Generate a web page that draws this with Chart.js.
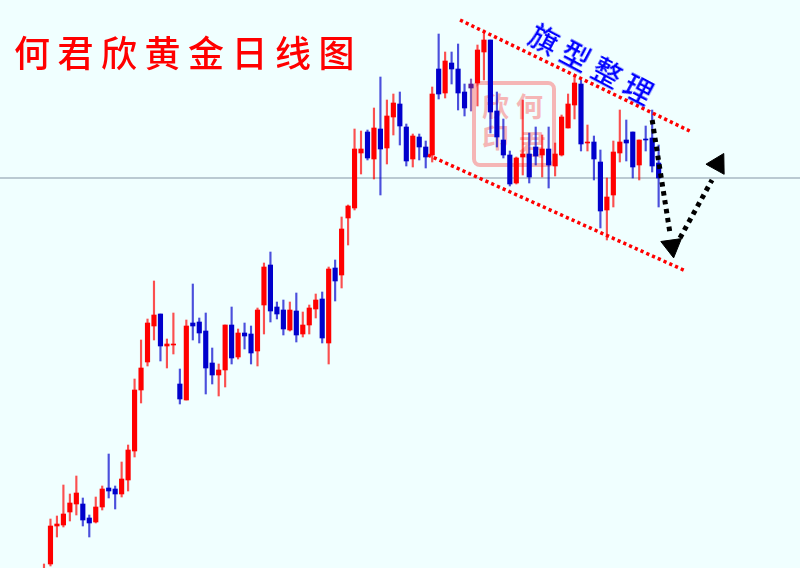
<!DOCTYPE html>
<html>
<head>
<meta charset="utf-8">
<script src="https://cdn.jsdelivr.net/npm/chart.js@4"></script>
<style>
  html, body { margin: 0; padding: 0; background: #f0ffff; overflow: hidden; }
  #wrap { position: relative; width: 800px; height: 568px; overflow: hidden; font-family: "Noto Sans CJK SC", sans-serif; }
  #goldChart { position: absolute; left: 0; top: 0; z-index: 1; }
  .title { position: absolute; left: 14px; top: 26px; z-index: 2; font-size: 36px; font-weight: 500; line-height: 50px; letter-spacing: 7.5px; color: #ff0000; white-space: nowrap; }
  .flag { position: absolute; left: 524px; top: 44px; width: 140px; z-index: 2; font-size: 29px; font-weight: 500; line-height: 40px; letter-spacing: 6.5px; color: #0000ff; white-space: nowrap; transform: rotate(28deg); }
  .seal { position: absolute; left: 472px; top: 81px; width: 76px; height: 78px; border: 4px solid #f5b6b6; border-radius: 8px; z-index: 0; color: #f5b6b6; }
  .seal span { position: absolute; font-size: 27px; line-height: 30px; font-weight: bold; }
</style>
</head>
<body>
<div id="wrap">
  <div class="seal">
    <span style="left:40px;top:6px">何</span>
    <span style="left:43px;top:44px">君</span>
    <span style="left:6px;top:6px">欣</span>
    <span style="left:6px;top:37px">印</span>
  </div>
  <canvas id="goldChart" width="800" height="568"></canvas>
  <div class="title">何君欣黄金日线图</div>
  <div class="flag">旗型整理</div>
</div>
<script>
// Daily candles (no price scale is shown, so units are arbitrary)
const open  = [-20,4,42,43,56,64,64,50,46,61,80,79,74,88,117,178,206,242,254,222,223,184,168,245,246,237,205,193,198,243,211,235,234,217,263,303,261,258,238,257,234,243,259,269,225,300,293,350,360,415,436,409,439,420,451,464,441,409,431,421,413,499,475,505,499,476,484,485,516,528,457,428,413,385,411,414,421,413,419,402,413,440,463,484,425,426,406,358,373,415,428,436,403,429,430,405];
const high  = [4,49,52,83,74,92,70,53,71,82,114,82,106,123,189,228,249,287,254,229,255,199,248,284,250,255,220,204,243,261,239,245,242,260,305,316,266,268,266,275,256,263,274,276,301,308,351,363,439,437,438,460,491,468,474,476,444,434,434,427,481,534,516,516,524,484,489,523,538,528,476,449,417,411,468,435,441,433,441,425,453,474,491,488,443,432,418,390,427,458,448,436,428,442,458,423];
const low   = [-20,2,31,41,47,53,42,31,45,58,70,59,71,77,111,165,202,228,207,200,214,164,168,228,225,174,184,172,181,204,209,219,204,202,234,246,249,233,237,226,231,234,250,225,204,267,280,323,358,394,408,389,373,404,433,423,402,401,408,400,406,469,470,484,458,452,457,462,488,435,421,410,382,384,393,385,403,391,380,392,412,440,449,417,417,388,340,328,361,406,407,390,388,417,396,361];
const close = [-4,42,44,54,65,75,48,45,61,79,77,74,89,118,178,200,245,253,222,224,224,169,242,242,235,200,193,198,243,210,235,232,215,258,301,257,254,239,258,233,243,260,268,230,299,287,339,362,419,419,410,440,419,452,465,442,407,432,421,411,474,474,507,499,475,460,480,518,528,456,431,413,384,410,414,391,412,419,403,414,451,464,485,424,426,409,357,371,416,426,425,401,428,428,402,390];

// Drawn annotations, x in candle index, y in the same units as the candles
const upperChannel = [{ x: 64.3, y: 548 }, { x: 99.8, y: 437 }];
const lowerChannel = [{ x: 59.35, y: 413 }, { x: 99.2, y: 297 }];
const arrowDown = [{ x: 94, y: 448 }, { x: 96.75, y: 335 }];
const arrowUp = [{ x: 98.3, y: 330 }, { x: 103.25, y: 388 }];
const arrowHeads = [{ x: 97.06, y: 322 }, { x: 104.17, y: 404 }];
const priceLine = [{ x: -7, y: 390 }, { x: 117, y: 390 }];

const RED = '#ff0000';
const BLUE = '#0000cc';
const SEAL_TINTED = 66; // this candle sits on the seal and looks purple

function candleColor(i) {
    if (i === SEAL_TINTED) return '#5a1a96';
    return close[i] >= open[i] ? RED : BLUE;
}

const colors = open.map((v, i) => candleColor(i));

new Chart(document.getElementById('goldChart'), {
    type: 'bar',
    data: {
        datasets: [
            {
                label: 'wick',
                data: open.map((v, i) => ({ x: i, y: [low[i], high[i]] })),
                backgroundColor: colors.map(c => c + 'b0'),
                barThickness: 1.5,
                grouped: false,
                order: 5
            },
            {
                label: 'body',
                data: open.map((v, i) => ({ x: i, y: [open[i], close[i]] })),
                backgroundColor: colors,
                barThickness: 4.5,
                grouped: false,
                order: 4
            },
            {
                type: 'line',
                label: 'price',
                data: priceLine,
                borderColor: '#8496a6',
                borderWidth: 1.2,
                pointRadius: 0,
                order: 6
            },
            {
                type: 'line',
                label: 'upper',
                data: upperChannel,
                borderColor: RED,
                borderWidth: 3.5,
                borderDash: [3.2, 3.1],
                pointRadius: 0,
                order: 3
            },
            {
                type: 'line',
                label: 'lower',
                data: lowerChannel,
                borderColor: RED,
                borderWidth: 3.5,
                borderDash: [3.2, 3.1],
                pointRadius: 0,
                order: 3
            },
            {
                type: 'line',
                label: 'down',
                data: arrowDown,
                borderColor: '#000000',
                borderWidth: 5,
                borderDash: [4.5, 4.5],
                pointRadius: 0,
                order: 2
            },
            {
                type: 'line',
                label: 'up',
                data: arrowUp,
                borderColor: '#000000',
                borderWidth: 5,
                borderDash: [4.5, 4.5],
                pointRadius: 0,
                order: 2
            },
            {
                type: 'scatter',
                label: 'heads',
                data: arrowHeads,
                pointStyle: 'triangle',
                pointRadius: 12,
                pointRotation: [172, 29],
                pointBackgroundColor: '#000000',
                pointBorderColor: '#000000',
                order: 1
            }
        ]
    },
    options: {
        responsive: false,
        animation: false,
        devicePixelRatio: 1,
        layout: { padding: 0, autoPadding: false },
        scales: {
            x: { type: 'linear', display: false, offset: false, min: -6.8, max: 116.85 },
            y: { display: false, min: 0, max: 568 }
        },
        plugins: {
            legend: { display: false },
            title: { display: false },
            tooltip: { enabled: false }
        }
    }
});
</script>
</body>
</html>
